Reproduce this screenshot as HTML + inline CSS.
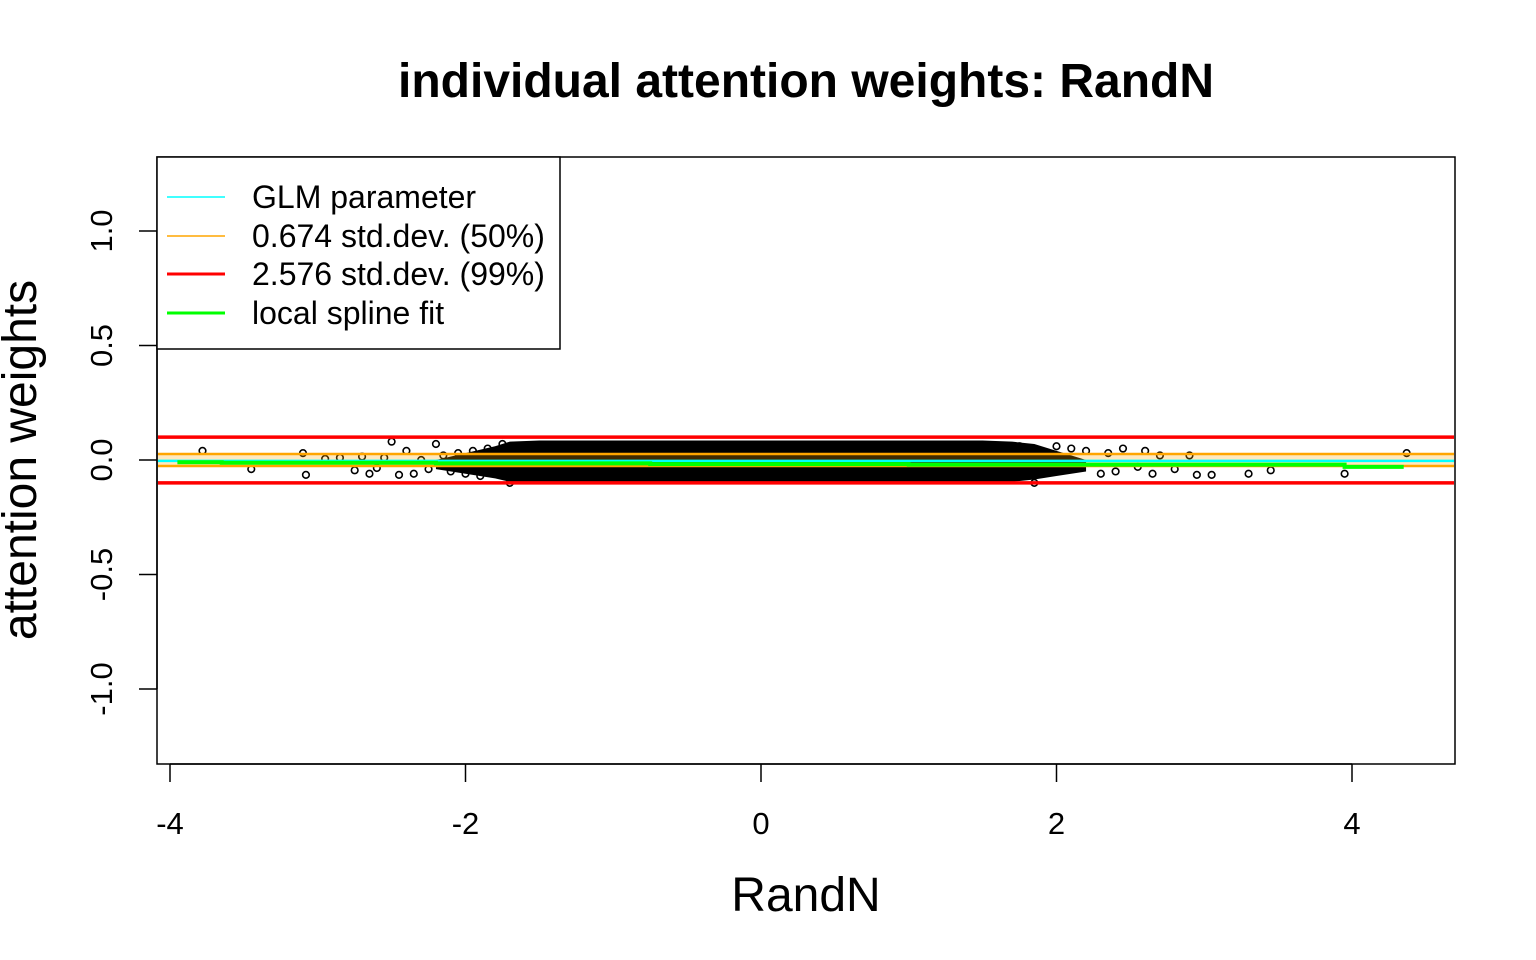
<!DOCTYPE html>
<html><head><meta charset="utf-8"><style>
html,body{margin:0;padding:0;background:#fff;}
svg{display:block;font-family:"Liberation Sans",Arial,sans-serif;}
</style></head><body>
<svg id="chart" width="1536" height="960" viewBox="0 0 1536 960">
<text x="806" y="97" text-anchor="middle" font-size="48" font-weight="bold">individual attention weights: RandN</text>
<g id="plot"></g>
<rect x="157" y="157" width="1298" height="607" fill="none" stroke="#000" stroke-width="1.5"/>
<g id="xaxis"></g>
<g id="yaxis"></g>
<text x="806" y="911" text-anchor="middle" font-size="48">RandN</text>
<text transform="translate(36,460) rotate(-90)" text-anchor="middle" font-size="48">attention weights</text>
<g>
<rect x="157" y="157" width="403" height="192" fill="#fff" stroke="#000" stroke-width="1.5"/>
<line x1="167" y1="197" x2="225" y2="197" stroke="#00ffff" stroke-width="1.5"/>
<text x="252" y="208" font-size="32">GLM parameter</text>
<line x1="167" y1="236" x2="225" y2="236" stroke="#ffa500" stroke-width="1.5"/>
<text x="252" y="247" font-size="32">0.674 std.dev. (50%)</text>
<line x1="167" y1="274" x2="225" y2="274" stroke="#ff0000" stroke-width="3"/>
<text x="252" y="285" font-size="32">2.576 std.dev. (99%)</text>
<line x1="167" y1="313" x2="225" y2="313" stroke="#00ff00" stroke-width="3"/>
<text x="252" y="324" font-size="32">local spline fit</text>
</g>
</svg>
<script>
const xTicks = [-4, -2, 0, 2, 4];
const yTicks = [-1.0, -0.5, 0.0, 0.5, 1.0];
const yTickLabels = ["-1.0", "-0.5", "0.0", "0.5", "1.0"];
const cloudX = [-2.2, -2.0, -1.8, -1.7, -1.5, 1.5, 1.7, 1.85, 2.0, 2.2];
const cloudTop = [0.0, 0.03, 0.06, 0.08, 0.085, 0.085, 0.08, 0.07, 0.04, 0.0];
const cloudBottom = [-0.04, -0.06, -0.08, -0.095, -0.1, -0.1, -0.095, -0.085, -0.07, -0.05];
const pointX = [-3.78,-3.45,-3.1,-3.08,-2.95,-2.85,-2.75,-2.7,-2.65,-2.6,-2.55,-2.5,-2.45,-2.4,-2.35,-2.3,-2.25,-2.2,-2.15,-2.1,-2.05,-2.0,-1.95,-1.9,-1.85,-1.8,-1.75,-1.7,1.75,1.85,1.95,2.0,2.1,2.15,2.2,2.3,2.35,2.4,2.45,2.55,2.6,2.65,2.7,2.8,2.9,2.95,3.05,3.3,3.45,3.95,4.37];
const pointY = [0.04,-0.04,0.03,-0.065,0.005,0.01,-0.045,0.015,-0.06,-0.035,0.01,0.08,-0.065,0.04,-0.06,0.0,-0.04,0.07,0.02,-0.05,0.03,-0.06,0.04,-0.07,0.05,-0.045,0.07,-0.1,0.06,-0.1,-0.05,0.06,0.05,-0.03,0.04,-0.06,0.03,-0.05,0.05,-0.03,0.04,-0.06,0.02,-0.04,0.02,-0.065,-0.065,-0.06,-0.045,-0.06,0.03];
const splineX = [-3.95, -3.65, -2.2, -0.75, 1.0, 2.4, 3.95, 4.35];
const splineY = [-0.01, -0.012, -0.015, -0.018, -0.02, -0.02, -0.03, -0.03];
const glmValue = -0.004;
const band50 = 0.026;
const band99 = 0.1;

const X0 = 170, X1 = 1352, Y0 = 460, YS = 229;
function sx(v){ return X0 + (v + 4) * (X1 - X0) / 8; }
function sy(v){ return Y0 - v * YS; }
const NS = "http://www.w3.org/2000/svg";
function mk(tag, attrs, parent){ const e = document.createElementNS(NS, tag); for (const k in attrs) e.setAttribute(k, attrs[k]); parent.appendChild(e); return e; }
const plot = document.getElementById('plot');
const L = 158, R = 1454;

let d = '';
cloudX.forEach((x,i)=>{ d += (i?'L':'M') + sx(x) + ',' + sy(cloudTop[i]); });
for (let i = cloudX.length-1; i >= 0; i--) d += 'L' + sx(cloudX[i]) + ',' + sy(cloudBottom[i]);
d += 'Z';
const cloud = mk('path', {d: d, fill: '#000'}, plot);



pointX.forEach((x,i)=>{
  const c = mk('circle', {cx: sx(x), cy: sy(pointY[i]), r: 3.3, fill: 'none', stroke: '#000', 'stroke-width': 1.6}, plot);
  
  
});

const fill50 = mk('rect', {x: L, y: sy(band50), width: R-L, height: sy(-band50)-sy(band50), fill: 'rgba(255,165,0,0.25)'}, plot);



[band50, -band50].forEach(v=>{
  const l = mk('line', {x1: L, x2: R, y1: sy(v), y2: sy(v), stroke: '#ffa500', 'stroke-width': 2.5}, plot);
  
  
});
const glm = mk('line', {x1: L, x2: R, y1: sy(glmValue), y2: sy(glmValue), stroke: '#00ffff', 'stroke-width': 2.5}, plot);



let sd = '';
splineX.forEach((x,i)=>{
  if (i === 0) sd += 'M' + sx(x) + ',' + sy(splineY[i]);
  else sd += 'H' + sx(x) + 'V' + sy(splineY[i]);
});
const sp = mk('path', {d: sd, fill: 'none', stroke: '#00ff00', 'stroke-width': 4}, plot);



[band99, -band99].forEach(v=>{
  const l = mk('line', {x1: L, x2: R, y1: sy(v), y2: sy(v), stroke: '#ff0000', 'stroke-width': 3.5}, plot);
  
  
});

const xa = document.getElementById('xaxis');
const xl = mk('line', {x1: sx(xTicks[0]), x2: sx(xTicks[xTicks.length-1]), y1: 764, y2: 764, stroke: '#000', 'stroke-width': 1.5}, xa);


xTicks.forEach(t=>{
  const tk = mk('line', {x1: sx(t), x2: sx(t), y1: 764, y2: 782, stroke: '#000', 'stroke-width': 1.5}, xa);
  
  
  const tx = mk('text', {x: sx(t), y: 834, 'text-anchor': 'middle', 'font-size': 31}, xa);
  tx.textContent = String(t);
  
  
});
const ya = document.getElementById('yaxis');
const yl = mk('line', {x1: 157, x2: 157, y1: sy(yTicks[0]), y2: sy(yTicks[yTicks.length-1]), stroke: '#000', 'stroke-width': 1.5}, ya);


yTicks.forEach((t,i)=>{
  const tk = mk('line', {x1: 139, x2: 157, y1: sy(t), y2: sy(t), stroke: '#000', 'stroke-width': 1.5}, ya);
  
  
  const tx = mk('text', {transform: 'translate(112,' + sy(t) + ') rotate(-90)', 'text-anchor': 'middle', 'font-size': 31}, ya);
  tx.textContent = yTickLabels[i];
  
  
});
</script>
</body></html>
